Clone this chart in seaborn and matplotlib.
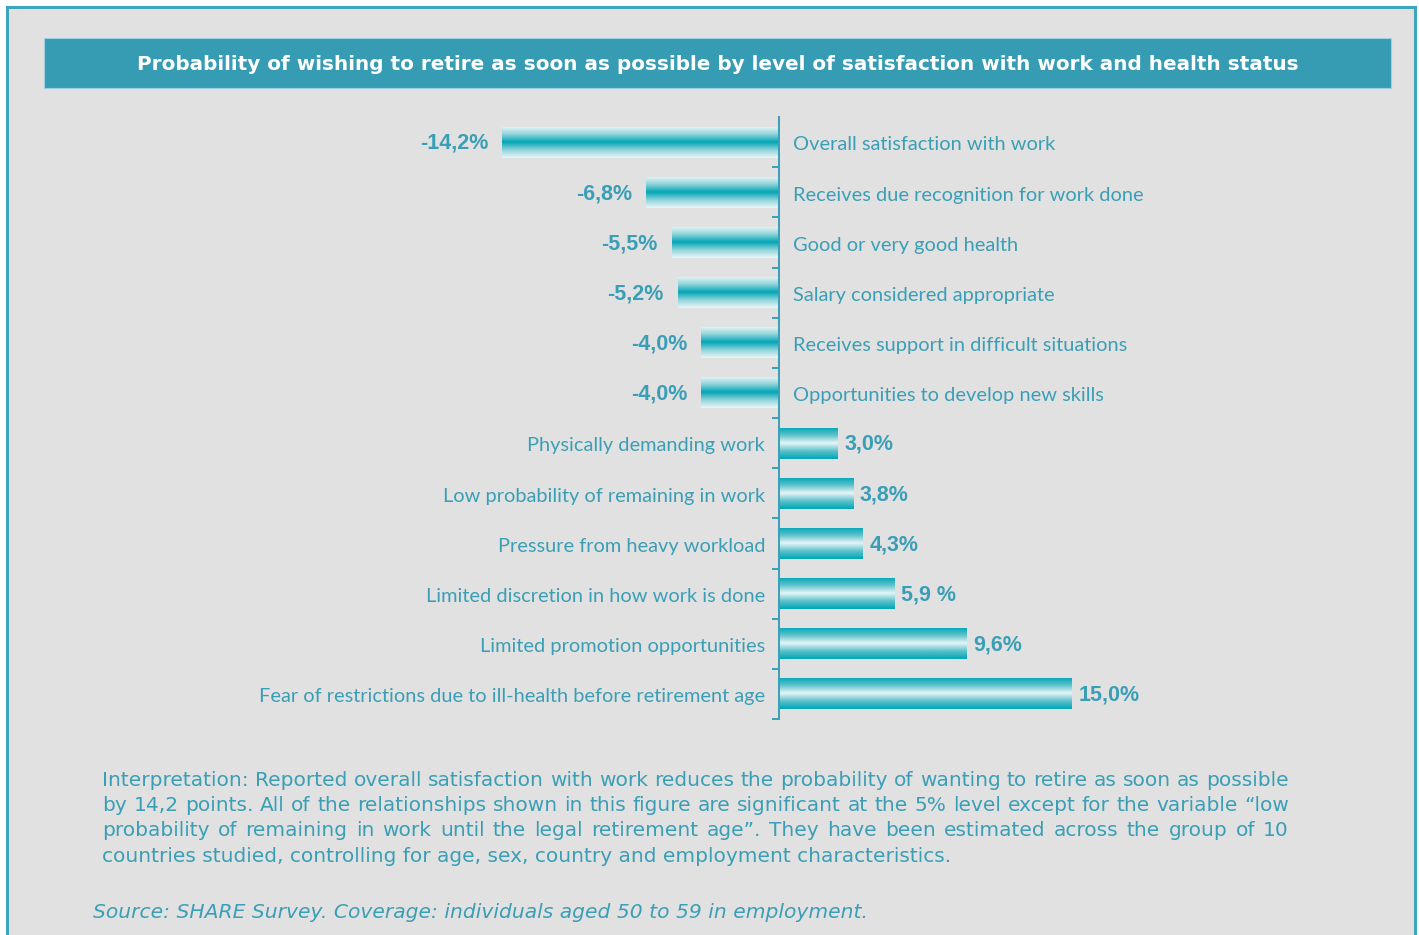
import numpy as np
import pandas as pd
import matplotlib
matplotlib.use("Agg")
import matplotlib.pyplot as plt
from matplotlib.colors import LinearSegmentedColormap
from matplotlib.patches import Rectangle
import seaborn as sns

categories = [
    "Overall satisfaction with work",
    "Receives due recognition for work done",
    "Good or very good health",
    "Salary considered appropriate",
    "Receives support in difficult situations",
    "Opportunities to develop new skills",
    "Physically demanding work",
    "Low probability of remaining in work",
    "Pressure from heavy workload",
    "Limited discretion in how work is done",
    "Limited promotion opportunities",
    "Fear of restrictions due to ill-health before retirement age",
]
values = [-14.2, -6.8, -5.5, -5.2, -4.0, -4.0, 3.0, 3.8, 4.3, 5.9, 9.6, 15.0]
value_labels = ["-14,2%", "-6,8%", "-5,5%", "-5,2%", "-4,0%", "-4,0%",
                "3,0%", "3,8%", "4,3%", "5,9 %", "9,6%", "15,0%"]

title = "Probability of wishing to retire as soon as possible by level of satisfaction with work and health status"
interp_lines = [
    "Interpretation: Reported overall satisfaction with work reduces the probability of wanting to retire as soon as possible",
    "by 14,2 points. All of the relationships shown in this figure are significant at the 5% level except for the variable \u201clow",
    "probability of remaining in work until the legal retirement age\u201d. They have been estimated across the group  of 10",
    "countries studied, controlling for age, sex, country and employment characteristics.",
]
source = "Source: SHARE Survey. Coverage: individuals aged 50 to 59 in employment."

W, H = 1419, 935
BG = "#e1e1e1"
TEAL_TXT = "#3a9fb6"
TEAL_BAR = "#00a6b6"
TITLE_BG = "#359cb4"

sns.set_theme(style="white")
plt.rcParams["font.family"] = ["Lato", "DejaVu Sans"]

fig = plt.figure(figsize=(W / 100, H / 100), dpi=100)
fig.patch.set_facecolor("white")

# outer panel
fig.add_artist(Rectangle((7 / W, -0.01), (1415 - 7) / W, 1 - 7 / H + 0.01,
                         transform=fig.transFigure, facecolor=BG,
                         edgecolor="#3ea5bd", linewidth=2.2, zorder=0))
# title banner
fig.add_artist(Rectangle((44 / W, 1 - 88 / H), (1391 - 44) / W, 50 / H,
                         transform=fig.transFigure, facecolor=TITLE_BG,
                         edgecolor="#9fcfdb", linewidth=0.8, zorder=1))
fig.text(718 / W, 1 - 64 / H, title, ha="center", va="center", color="white",
         fontsize=14.4, fontweight="bold", family=["DejaVu Sans"], zorder=2)

# axes geometry: zero at x=779 px, 19.5 px per unit
px_per = 19.5
left_px, right_px = 100, 1300
top_px, bot_px = 117, 719
ax = fig.add_axes([left_px / W, 1 - bot_px / H, (right_px - left_px) / W, (bot_px - top_px) / H])
ax.set_facecolor("none")

df = pd.DataFrame({"cat": categories, "val": values})
sns.barplot(data=df, x="val", y="cat", orient="h", order=categories,
            color=TEAL_BAR, width=0.62, ax=ax, saturation=1)

ax.set_xlim(-(779 - left_px) / px_per, (right_px - 779) / px_per)
ax.set_ylim(len(categories) - 0.5, -0.5)

# gradients
cmap_neg = LinearSegmentedColormap.from_list("neg", ["#e8f6f8", "#8fd3da", "#00a6b6", "#8fd3da", "#e8f6f8"])
cmap_pos = LinearSegmentedColormap.from_list("pos", ["#00a6b6", "#5ec2cc", "#e6f6f8", "#5ec2cc", "#00a6b6"])
grad = np.linspace(0, 1, 64).reshape(-1, 1)
for patch, v in zip(ax.patches, values):
    x0, y0 = patch.get_x(), patch.get_y()
    w, h = patch.get_width(), patch.get_height()
    cm = cmap_neg if v < 0 else cmap_pos
    im = ax.imshow(grad, cmap=cm, aspect="auto",
                   extent=(min(x0, x0 + w), max(x0, x0 + w), y0 + h, y0),
                   interpolation="bilinear", zorder=3)
    im.set_clip_path(patch)
    patch.set_edgecolor("none")

# axis spine at zero
for s in ["top", "right", "bottom"]:
    ax.spines[s].set_visible(False)
ax.spines["left"].set_position(("data", 0))
ax.spines["left"].set_color(TEAL_TXT)
ax.spines["left"].set_linewidth(1.4)
ax.spines["left"].set_zorder(5)
ax.set_yticks([])
ax.set_yticks(np.arange(len(categories)) + 0.5, minor=True)
ax.tick_params(axis="y", which="minor", direction="out", length=5, width=1.4,
               color=TEAL_TXT, left=True)
ax.set_xticks([])
ax.set_xlabel("")
ax.set_ylabel("")

for i, (cat, v, lab) in enumerate(zip(categories, values, value_labels)):
    if v < 0:
        ax.annotate(cat, (0, i), xytext=(10, -2), textcoords="offset points",
                    ha="left", va="center", color=TEAL_TXT, fontsize=14.4)
        ax.annotate(lab, (v, i), xytext=(-10, -1), textcoords="offset points",
                    ha="right", va="center", color=TEAL_TXT, fontsize=15.5,
                    fontweight="bold", family=["Liberation Sans"])
    else:
        ax.annotate(cat, (0, i), xytext=(-10, -2), textcoords="offset points",
                    ha="right", va="center", color=TEAL_TXT, fontsize=14.4)
        ax.annotate(lab, (v, i), xytext=(5, -1), textcoords="offset points",
                    ha="left", va="center", color=TEAL_TXT, fontsize=15.5,
                    fontweight="bold", family=["Liberation Sans"])

# interpretation text, justified between x=102 and x=1289
renderer = fig.canvas.get_renderer()
x_left, x_right = 102, 1289
fs_body = 14.5
for k, line in enumerate(interp_lines):
    y = 1 - (780 + 25.5 * k) / H
    if k == len(interp_lines) - 1:
        fig.text(x_left / W, y, line, ha="left", va="center",
                 color=TEAL_TXT, fontsize=fs_body, family=["DejaVu Sans"])
        continue
    words = line.split()
    txts = [fig.text(0, y, wd, ha="left", va="center", color=TEAL_TXT,
                     fontsize=fs_body, family=["DejaVu Sans"]) for wd in words]
    widths = [t.get_window_extent(renderer).width for t in txts]
    gap = (x_right - x_left - sum(widths)) / (len(words) - 1)
    xp = x_left
    for t, wdt in zip(txts, widths):
        t.set_x(xp / W)
        xp += wdt + gap

fig.text(93 / W, 1 - 913 / H, source, ha="left", va="center",
         color=TEAL_TXT, fontsize=14.6, style="italic", family=["DejaVu Sans"])

fig.savefig("out.png", dpi=100, facecolor="white")
